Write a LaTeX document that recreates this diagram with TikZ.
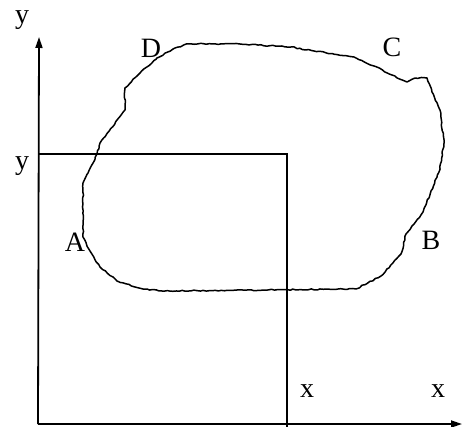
\documentclass[tikz,border=0pt]{standalone}
\usepackage{fontspec}
\setmainfont{Liberation Serif}
\usetikzlibrary{arrows.meta,decorations.pathmorphing}
\begin{document}
\begin{tikzpicture}[x=1pt,y=-1pt,
  axis/.style={line width=1.8pt,-{Triangle[length=11pt,width=7pt]}},
  rect/.style={line width=2.2pt},
  blob/.style={line width=1.5pt,line join=round,
    decorate,decoration={random steps,segment length=3pt,amplitude=0.6pt}},
  lbl/.style={font=\fontsize{28}{28}\selectfont,inner sep=0pt}]
\useasboundingbox (0,0) rectangle (462,427);
\pgfmathsetseed{7}
\coordinate (O) at (38,424);
\coordinate (Ytip) at (39,37);
\coordinate (Xtip) at (462,424);
\draw[axis] (O) -- (Ytip);
\draw[axis] (O) -- (Xtip);
\coordinate (R1) at (38,154);
\coordinate (R2) at (287,154);
\coordinate (R3) at (287,427);
\draw[rect] (R1) -- (R2) -- (R3);
\draw[blob] (188,44) -- (240,44) -- (291,47) -- (314,51) -- (354,57) -- (374,66)
  -- (392,75) -- (407,82) -- (415,78) -- (427,78) -- (432,92) -- (440,110)
  -- (444,143) -- (439,172) -- (423,212) -- (406,234) -- (401,254)
  -- (381,276) -- (356,289) -- (162,291) -- (143,289) -- (117,281) -- (100,267)
  -- (90,251) -- (83,237) -- (83,183) -- (88,173) -- (97,154) -- (100,143)
  -- (125,110) -- (125,88) -- (140,73) -- (157,58) -- (175,48) -- cycle;
\node[lbl] (ly1) at (22,20) {y};
\node[lbl] (ly2) at (22,166) {y};
\node[lbl] (lx1) at (307,391) {x};
\node[lbl] (lx2) at (438,391) {x};
\node[lbl] (lD) at (151,48) {D};
\node[lbl] (lC) at (392,47) {C};
\node[lbl] (lA) at (75,242) {A};
\node[lbl] (lB) at (431,240) {B};
\end{tikzpicture}
\end{document}
